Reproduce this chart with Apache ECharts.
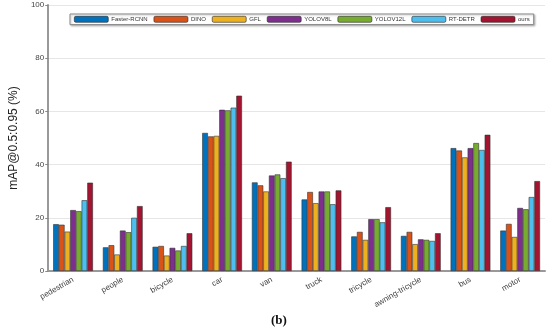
<!DOCTYPE html>
<html><head><meta charset="utf-8">
<script src="https://cdn.jsdelivr.net/npm/echarts@6/dist/echarts.min.js"></script>
<style>html,body{margin:0;padding:0;background:#fff}#c{width:550px;height:332px}</style>
</head><body><div id="c"></div>
<script>
const categories = ['pedestrian','people','bicycle','car','van','truck','tricycle','awning-tricycle','bus','motor'];
const seriesNames = ['Faster-RCNN','DINO','GFL','YOLOV8L','YOLOV12L','RT-DETR','ours'];
const fasterRCNN = [17.6, 8.9, 9.1, 51.9, 33.3, 26.9, 13.0, 13.2, 46.2, 15.2];
const dino       = [17.4, 9.7, 9.4, 50.6, 32.2, 29.7, 14.7, 14.7, 45.3, 17.7];
const gfl        = [14.8, 6.2, 5.8, 50.8, 29.9, 25.5, 11.7, 10.1, 42.7, 12.8];
const yolov8l    = [22.9, 15.2, 8.7, 60.6, 35.9, 29.9, 19.5, 11.9, 46.2, 23.7];
const yolov12l   = [22.5, 14.6, 7.7, 60.4, 36.3, 29.9, 19.5, 11.7, 48.1, 23.2];
const rtdetr     = [26.6, 20.0, 9.4, 61.4, 34.9, 25.1, 18.3, 11.3, 45.5, 27.8];
const ours       = [33.2, 24.4, 14.2, 65.9, 41.1, 30.3, 24.0, 14.2, 51.2, 33.8];
const yTicks = [0, 20, 40, 60, 80, 100];
const colors = ['#0072BD','#D95319','#EDB120','#7E2F8E','#77AC30','#4DBEEE','#A2142F'];
const allData = [fasterRCNN, dino, gfl, yolov8l, yolov12l, rtdetr, ours];

const chart = echarts.init(document.getElementById('c'), null, {renderer:'canvas'});
chart.setOption({
  animation: false,
  backgroundColor: '#fff',
  grid: {left: 36, right: 5, top: 5, bottom: 61},
  legend: {
    data: seriesNames,
    left: 70, top: 14, width: 470,
    itemWidth: 34, itemHeight: 6, itemGap: 6,
    padding: [2, 4],
    borderColor: '#888', borderWidth: 1, borderRadius: 0,
    backgroundColor: '#fff',
    shadowColor: 'rgba(0,0,0,0.25)', shadowBlur: 2, shadowOffsetX: 1, shadowOffsetY: 1,
    textStyle: {fontSize: 6, color: '#333', fontFamily: 'Liberation Sans', padding: [0,0,0,-2]},
    itemStyle: {borderColor: '#222', borderWidth: 0.6}
  },
  xAxis: {
    type: 'category', data: categories,
    axisLine: {lineStyle: {color: '#999', width: 2}},
    axisTick: {alignWithLabel: true, length: 4, lineStyle: {color: '#888'}},
    axisLabel: {rotate: 30, fontSize: 8, color: '#444', fontFamily: 'Liberation Sans', margin: 8}
  },
  yAxis: {
    type: 'value', min: yTicks[0], max: yTicks[yTicks.length-1], interval: 20,
    name: 'mAP@0.5:0.95 (%)', nameLocation: 'middle', nameGap: 23,
    nameTextStyle: {fontSize: 12, color: '#222', fontFamily: 'Liberation Sans'},
    axisLine: {show: true, lineStyle: {color: '#999', width: 2}},
    axisTick: {show: true, length: 3, lineStyle: {color: '#888'}},
    axisLabel: {fontSize: 8, color: '#444', fontFamily: 'Liberation Sans', margin: 4},
    splitLine: {lineStyle: {color: '#e6e6e6', width: 1}}
  },
  series: seriesNames.map((n, i) => ({
    name: n, type: 'bar', data: allData[i],
    barGap: '0%', barCategoryGap: '20%',
    itemStyle: {color: colors[i], borderColor: '#333', borderWidth: 0.6}
  })),
  graphic: [{
    type: 'text', left: 271, top: 314,
    style: {text: '(b)', font: 'bold 13px "Liberation Serif"', fill: '#111'}
  }]
});
</script></body></html>
